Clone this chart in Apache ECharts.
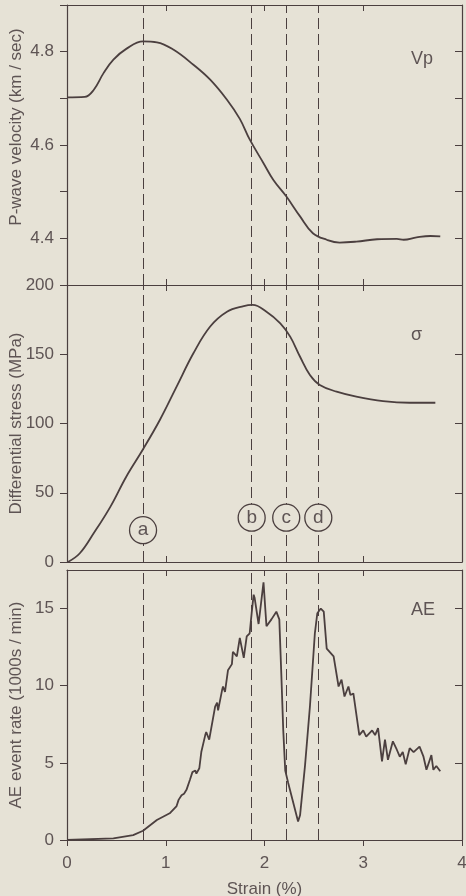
<!DOCTYPE html>
<html>
<head>
<meta charset="utf-8">
<script src="https://cdn.jsdelivr.net/npm/echarts@6/dist/echarts.min.js"></script>
<style>
  html, body { margin: 0; padding: 0; background: #e6e2d6; }
  #chart { width: 466px; height: 896px; }
</style>
</head>
<body>
<div id="chart"></div>
<script>
  // P-wave velocity (strain %, km/sec)
  const vpStrain = [0, 0.18, 0.27, 0.37, 0.47, 0.60, 0.77, 0.91, 1.08, 1.28, 1.45, 1.62, 1.75, 1.85, 1.99, 2.09, 2.22, 2.36, 2.49, 2.63, 2.76, 2.93, 3.14, 3.34, 3.41, 3.54, 3.68, 3.78]
  const vpValues = [4.702, 4.703, 4.718, 4.754, 4.783, 4.806, 4.822, 4.820, 4.804, 4.772, 4.740, 4.697, 4.656, 4.612, 4.561, 4.525, 4.490, 4.447, 4.411, 4.397, 4.391, 4.393, 4.398, 4.399, 4.397, 4.402, 4.405, 4.404]

  // differential stress (MPa)
  const stressStrain = [0.01, 0.13, 0.27, 0.44, 0.60, 0.77, 0.94, 1.11, 1.28, 1.45, 1.62, 1.79, 1.88, 2.02, 2.16, 2.26, 2.36, 2.46, 2.56, 2.73, 2.93, 3.20, 3.47, 3.73]
  const stressValues = [0, 6.3, 20.7, 40, 61.6, 81.4, 102.5, 126.6, 150.7, 170, 180.7, 184.8, 185.6, 180.7, 172.3, 162.7, 148.2, 135, 127.8, 123, 119.4, 116.2, 115, 115]

  // AE event rate (1000s / min)
  const aeStrain = [0, 0.47, 0.67, 0.77, 0.91, 1.04, 1.11, 1.13, 1.16, 1.185, 1.21, 1.245, 1.27, 1.30, 1.31, 1.34, 1.36, 1.40, 1.41, 1.44, 1.50, 1.52, 1.53, 1.57, 1.58, 1.60, 1.63, 1.67, 1.68, 1.72, 1.75, 1.79, 1.82, 1.84, 1.85, 1.87, 1.89, 1.90, 1.94, 1.99, 2.02, 2.07, 2.12, 2.15, 2.17, 2.19, 2.21, 2.24, 2.34, 2.36, 2.41, 2.46, 2.51, 2.535, 2.57, 2.60, 2.63, 2.70, 2.75, 2.78, 2.81, 2.85, 2.87, 2.90, 2.96, 3.00, 3.03, 3.09, 3.12, 3.15, 3.19, 3.22, 3.25, 3.30, 3.34, 3.37, 3.40, 3.43, 3.47, 3.51, 3.57, 3.61, 3.64, 3.69, 3.71, 3.74, 3.78]
  const aeValues = [0, 0.1, 0.32, 0.6, 1.3, 1.73, 2.2, 2.6, 2.9, 3.0, 3.25, 3.9, 4.4, 4.5, 4.3, 4.65, 5.7, 6.8, 7.0, 6.5, 8.65, 8.9, 8.4, 9.7, 9.95, 9.6, 11.0, 11.4, 12.2, 11.9, 13.1, 11.8, 13.2, 13.1, 13.4, 14.7, 15.9, 15.7, 14.0, 16.7, 13.85, 14.3, 14.8, 14.3, 10.8, 7.1, 4.5, 3.7, 1.2, 1.6, 4.8, 8.65, 13.4, 14.7, 15.0, 14.8, 12.4, 11.9, 9.95, 10.4, 9.3, 9.95, 9.4, 9.5, 6.8, 7.1, 6.7, 7.1, 6.8, 7.25, 5.1, 6.5, 5.2, 6.4, 5.85, 5.4, 5.7, 4.9, 5.95, 5.7, 6.05, 5.4, 4.55, 5.5, 4.55, 4.8, 4.45]

  // event markers
  const eventLabels = ['a', 'b', 'c', 'd']
  const eventStrain = [0.77, 1.87, 2.22, 2.545]
  const eventMarkY = [23, 32, 32, 32]

  const bg = '#e6e2d6'
  const ink = '#4b3f3f'
  const txt = '#5e5454'
  const font = 'Liberation Sans'

  const pairs = (xs, ys) => xs.map((x, i) => [x, ys[i]])

  const panels = [
    { top: 5, height: 280, min: 4.3, max: 4.9, interval: 0.1, name: 'P-wave velocity (km / sec)', namePad: [0, 0, 0, 36],
      fmt: v => { const k = Math.round(v * 10); return (k % 2 === 0 && k >= 44 && k <= 48) ? (k / 10).toFixed(1) : '' } },
    { top: 285, height: 277, min: 0, max: 200, interval: 50, name: 'Differential stress (MPa)', namePad: 0,
      fmt: v => String(v) },
    { top: 570, height: 270, min: 0, max: 17.5, interval: 5, name: 'AE event rate (1000s / min)', namePad: 0,
      fmt: v => (v % 5 === 0 ? String(v) : '') }
  ]

  const chart = echarts.init(document.getElementById('chart'))

  // keep every panel at the same fixed box
  const grid = panels.map(p => ({ left: 67, right: 4, top: p.top, height: p.height, outerBoundsMode: 'none', containLabel: false }))

  const lineOf = { show: true, onZero: false, lineStyle: { color: ink, width: 1.2 } }

  const xAxis = []
  const yAxis = []
  panels.forEach((p, i) => {
    const last = i === panels.length - 1
    xAxis.push({
      type: 'value', gridIndex: i, position: 'bottom', min: 0, max: 4, interval: 1,
      axisLine: lineOf,
      axisTick: { show: true, inside: !last, length: 6, lineStyle: { color: ink } },
      axisLabel: { show: last, margin: 15, color: txt, fontFamily: font, fontSize: 17 },
      splitLine: { show: false },
      name: last ? 'Strain (%)' : '', nameLocation: 'middle', nameGap: 41, nameMoveOverlap: false,
      nameTextStyle: { color: txt, fontFamily: font, fontSize: 17 }
    })
    xAxis.push({
      type: 'value', gridIndex: i, position: 'top', min: 0, max: 4, interval: 1,
      axisLine: lineOf,
      axisTick: { show: true, inside: true, length: 6, lineStyle: { color: ink } },
      axisLabel: { show: false }, splitLine: { show: false }
    })
    yAxis.push({
      type: 'value', gridIndex: i, position: 'left', min: p.min, max: p.max, interval: p.interval,
      axisLine: lineOf,
      axisTick: { show: true, length: 7, lineStyle: { color: ink } },
      axisLabel: { margin: 13, color: txt, fontFamily: font, fontSize: 17, formatter: p.fmt, showMaxLabel: i !== 2 },
      splitLine: { show: false },
      name: p.name, nameLocation: 'middle', nameGap: 42, nameMoveOverlap: false,
      nameTextStyle: { color: txt, fontFamily: font, fontSize: 17, padding: p.namePad }
    })
    yAxis.push({
      type: 'value', gridIndex: i, position: 'right', min: p.min, max: p.max, interval: p.interval,
      axisLine: lineOf,
      axisTick: { show: true, inside: true, length: 7, lineStyle: { color: ink } },
      axisLabel: { show: false }, splitLine: { show: false }
    })
  })

  const eventLines = {
    silent: true, symbol: 'none', label: { show: false },
    lineStyle: { color: ink, width: 1, type: [11, 5] },
    data: eventStrain.map(x => ({ xAxis: x }))
  }

  const curve = (data, idx, smooth) => ({
    type: 'line', xAxisIndex: idx * 2, yAxisIndex: idx * 2, data: data,
    smooth: smooth, showSymbol: false, symbol: 'none',
    lineStyle: { color: ink, width: 1.8 },
    markLine: eventLines, z: 3
  })

  const tag = { color: txt, fontFamily: font, fontSize: 18, fontWeight: 'normal' }

  const option = {
    backgroundColor: bg,
    animation: false,
    grid: grid,
    xAxis: xAxis,
    yAxis: yAxis,
    title: [
      { text: 'Vp', left: 406, top: 45, textStyle: tag },
      { text: 'σ', left: 406, top: 321, textStyle: tag },
      { text: 'AE', left: 406, top: 596, textStyle: tag }
    ],
    series: [
      curve(pairs(vpStrain, vpValues), 0, 0.4),
      curve(pairs(stressStrain, stressValues), 1, 0.4),
      curve(pairs(aeStrain, aeValues), 2, false),
      {
        type: 'scatter', xAxisIndex: 2, yAxisIndex: 2, z: 5,
        data: eventStrain.map((x, i) => [x, eventMarkY[i], eventLabels[i]]),
        symbol: 'circle', symbolSize: 27,
        itemStyle: { color: bg, borderColor: ink, borderWidth: 1.3, opacity: 1 },
        label: { show: true, position: 'inside', formatter: p => p.data[2], color: txt, fontFamily: font, fontSize: 19 }
      }
    ]
  }

  chart.setOption(option)
</script>
</body>
</html>
